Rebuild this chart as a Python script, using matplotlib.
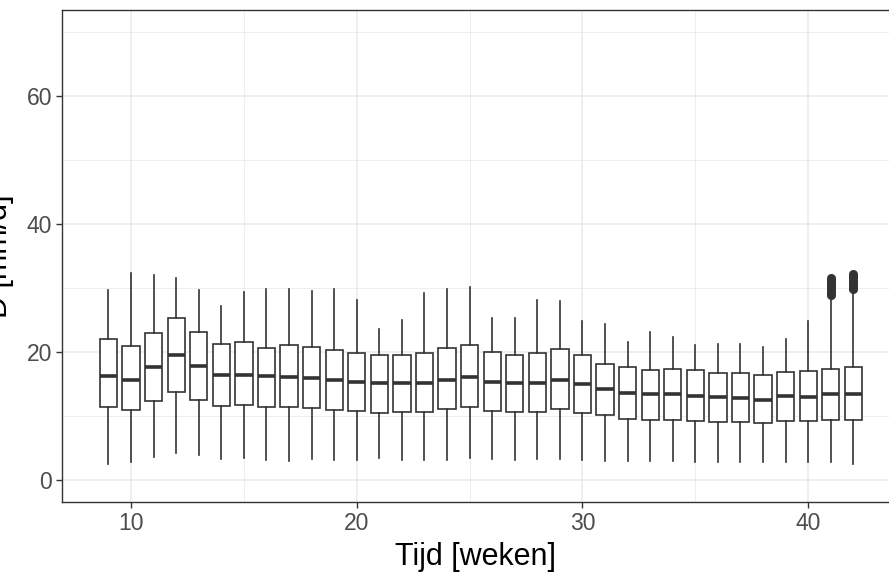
import numpy as np
import matplotlib
matplotlib.use("Agg")
import matplotlib.pyplot as plt
from matplotlib.ticker import MultipleLocator

plt.rcParams['font.family'] = ['Liberation Sans', 'DejaVu Sans']

# Boxplot statistics per week
weeks = list(range(9, 43))
whisk_lo = [2.6, 2.8, 3.7, 4.2, 3.9, 3.3, 3.4, 3.1, 3.0, 3.3, 3.2,
            3.2, 3.4, 3.2, 3.2, 3.2, 3.5, 3.3, 3.2, 3.3, 3.3, 3.2, 3.0,
            3.0, 3.0, 3.0, 2.8, 2.8, 2.8, 2.8, 2.9, 2.8, 2.8, 2.6]
q1 = [11.4, 10.9, 12.3, 13.7, 12.5, 11.6, 11.8, 11.4, 11.4, 11.2, 11.0,
      10.8, 10.5, 10.6, 10.7, 11.1, 11.4, 10.8, 10.6, 10.7, 11.1, 10.5, 10.2,
      9.6, 9.4, 9.4, 9.2, 9.1, 9.1, 8.9, 9.2, 9.2, 9.4, 9.4]
medians = [16.2, 15.7, 17.7, 19.5, 17.8, 16.5, 16.5, 16.2, 16.1, 15.9, 15.7,
           15.3, 15.2, 15.1, 15.1, 15.7, 16.1, 15.4, 15.2, 15.2, 15.7, 15.0, 14.3,
           13.6, 13.4, 13.4, 13.2, 13.0, 12.8, 12.6, 13.1, 13.0, 13.4, 13.5]
q3 = [22.0, 20.9, 23.0, 25.3, 23.2, 21.25, 21.5, 20.7, 21.1, 20.8, 20.4,
      19.9, 19.5, 19.5, 19.9, 20.6, 21.1, 20.0, 19.6, 19.9, 20.5, 19.5, 18.2,
      17.7, 17.2, 17.4, 17.2, 16.8, 16.7, 16.4, 16.9, 17.1, 17.3, 17.7]
whisk_hi = [29.7, 32.4, 32.0, 31.5, 29.7, 27.2, 29.4, 29.9, 29.8, 29.5, 29.9,
            28.1, 23.6, 25.0, 29.3, 29.8, 30.2, 25.4, 25.3, 28.1, 28.0, 24.9, 24.4,
            21.6, 23.2, 22.3, 21.1, 21.3, 21.2, 20.8, 22.1, 24.8, 28.6, 29.7]
outliers = {
    41: [28.9, 29.3, 29.7, 30.1, 30.5, 30.9, 31.3, 31.6],
    42: [29.9, 30.3, 30.7, 31.1, 31.5, 31.9, 32.2],
}

stats = []
for i, w in enumerate(weeks):
    stats.append({
        'whislo': whisk_lo[i], 'q1': q1[i], 'med': medians[i],
        'q3': q3[i], 'whishi': whisk_hi[i],
        'fliers': outliers.get(w, []),
    })

fig = plt.figure(figsize=(8.89, 5.75), dpi=100)
ax = fig.add_axes([62 / 889, 1 - 502 / 575, 1 - 62 / 889, 492 / 575])

dark = '#333333'
ax.bxp(stats, positions=weeks, widths=0.77, patch_artist=True, showcaps=False,
       boxprops=dict(facecolor='white', edgecolor=dark, linewidth=1.2),
       medianprops=dict(color=dark, linewidth=2.6),
       whiskerprops=dict(color=dark, linewidth=1.2),
       flierprops=dict(marker='o', markerfacecolor=dark, markeredgecolor=dark,
                       markersize=5.5, linestyle='none'),
       manage_ticks=False, zorder=3)

ax.set_xlim(6.94, 43.58)
ax.set_ylim(-3.4, 73.4)

ax.xaxis.set_major_locator(MultipleLocator(10))
ax.xaxis.set_minor_locator(MultipleLocator(5))
ax.yaxis.set_major_locator(MultipleLocator(20))
ax.yaxis.set_minor_locator(MultipleLocator(10))

ax.grid(True, which='major', color='#EBEBEB', linewidth=1.1, zorder=0)
ax.grid(True, which='minor', color='#EBEBEB', linewidth=0.6, zorder=0)
ax.set_axisbelow(True)

for side in ['left', 'bottom', 'top']:
    ax.spines[side].set_color(dark)
    ax.spines[side].set_linewidth(1.0)
ax.spines['right'].set_visible(False)

ax.tick_params(which='major', length=4, width=1.0, color=dark,
               labelsize=16.5, labelcolor='#4D4D4D', pad=3)
ax.tick_params(which='minor', length=0)

ax.set_xlabel('Tijd [weken]', fontsize=22, color='black', labelpad=5)
fig.text(14 / 889, 1 - 256 / 575, 'D [mm/d]', rotation=90, ha='right', va='center',
         fontsize=22, color='black')

fig.savefig('out.png', dpi=100)
